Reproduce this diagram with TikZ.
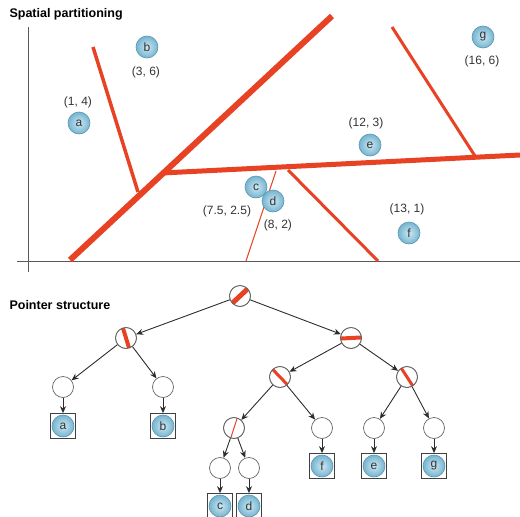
\documentclass[tikz,border=0pt]{standalone}
\usepackage{fontspec}
\setmainfont{Liberation Sans}
\usetikzlibrary{arrows.meta,calc}
\definecolor{splitred}{RGB}{232,66,36}
\definecolor{ballrim}{RGB}{88,150,178}
\definecolor{ballin}{RGB}{205,232,243}
\definecolor{ballout}{RGB}{118,180,207}
\definecolor{axisgray}{RGB}{90,90,90}
\definecolor{ptrgray}{RGB}{45,45,45}
\tikzset{
    ball/.style={circle, draw=ballrim, line width=0.6pt, inner color=ballin, outer color=ballout,
        minimum size=22pt, inner sep=0pt, font=\fontsize{12}{12}\selectfont, text=black!80},
    coordlabel/.style={font=\fontsize{12}{12}\selectfont, text=black!80},
    splitnode/.style={circle, draw=black!60, line width=0.7pt, fill=white, minimum size=21pt, inner sep=0pt},
    leafbox/.style={draw=black!75, line width=0.7pt, minimum size=25pt, inner sep=0pt},
    ptr/.style={draw=ptrgray, line width=0.9pt, -{Stealth[length=7pt,width=6pt]}},
    heading/.style={font=\bfseries\fontsize{12.5}{14}\selectfont, anchor=west},
}
% red slash inside a tree node: node, angle, width
\newcommand{\splitmark}[3]{%
    \begin{scope}
        \clip (#1.center) circle (10.5pt);
        \draw[splitred, line width=#3] ($(#1.center)+(#2:12pt)$) -- ($(#1.center)+(#2+180:12pt)$);
    \end{scope}
    \draw[black!60, line width=0.7pt] (#1.center) circle (10.5pt);
}

\begin{document}
\begin{tikzpicture}[x=1pt, y=1pt]
    \useasboundingbox (0,0) rectangle (520,-517);

    % Spatial partitioning
    \node[heading] (spatialtitle) at (6,-14) {Spatial partitioning};
    \draw[axisgray, line width=0.8pt] (28,-27) -- (28,-272);
    \draw[axisgray, line width=0.8pt] (17,-261) -- (520,-261);

    % splitting planes
    \draw[splitred, line width=6pt] (70,-260) -- (332,-16);
    \draw[splitred, line width=3.5pt] (93,-47) -- (138,-192);
    \draw[splitred, line width=5pt] (162,-173) -- (520,-155);
    \draw[splitred, line width=3pt] (392,-27) -- (475,-156);
    \draw[splitred, line width=3pt] (288,-170) -- (378,-261);
    \draw[splitred, line width=1pt] (276,-171) -- (246,-261);

    % points
    \node[ball] (pa) at (79,-123) {a};
    \node[coordlabel] (ta) at (78,-102) {(1, 4)};
    \node[ball] (pb) at (147,-47) {b};
    \node[coordlabel] (tb) at (146,-72) {(3, 6)};
    \node[ball] (pc) at (256,-187) {c};
    \node[ball] (pd) at (273,-201) {d};
    \node[coordlabel] (tc) at (227,-211) {(7.5, 2.5)};
    \node[coordlabel] (td) at (278,-225) {(8, 2)};
    \node[ball] (pe) at (370,-145) {e};
    \node[coordlabel] (te) at (366,-123) {(12, 3)};
    \node[ball] (pf) at (409,-233) {f};
    \node[coordlabel] (tf) at (407,-209) {(13, 1)};
    \node[ball] (pg) at (483,-37) {g};
    \node[coordlabel] (tg) at (482,-61) {(16, 6)};

    % Pointer structure
    \node[heading] (pointertitle) at (6,-305) {Pointer structure};

    \node[splitnode] (root) at (240,-296) {};
    \node[splitnode] (l) at (126,-338) {};
    \node[splitnode] (r) at (351,-338) {};
    \node[splitnode] (ll) at (63,-387) {};
    \node[splitnode] (lr) at (163,-387) {};
    \node[splitnode] (rl) at (280,-377) {};
    \node[splitnode] (rr) at (407,-377) {};
    \node[splitnode] (rll) at (234,-428) {};
    \node[splitnode] (rlr) at (322,-428) {};
    \node[splitnode] (rrl) at (374,-428) {};
    \node[splitnode] (rrr) at (434,-428) {};
    \node[splitnode] (rlll) at (220,-468) {};
    \node[splitnode] (rllr) at (249,-468) {};

    \splitmark{root}{43}{5pt}
    \splitmark{l}{-73}{4pt}
    \splitmark{r}{3}{4pt}
    \splitmark{rl}{-46}{3pt}
    \splitmark{rr}{-57}{3pt}
    \splitmark{rll}{72}{1pt}

    % leaves
    \node[leafbox] (boxa) at (63,-426) {};
    \node[ball] (leafa) at (boxa) {a};
    \node[leafbox] (boxb) at (163,-426) {};
    \node[ball] (leafb) at (boxb) {b};
    \node[leafbox] (boxf) at (322,-466) {};
    \node[ball] (leaff) at (boxf) {f};
    \node[leafbox] (boxe) at (374,-466) {};
    \node[ball] (leafe) at (boxe) {e};
    \node[leafbox] (boxg) at (434,-466) {};
    \node[ball] (leafg) at (boxg) {g};
    \node[leafbox] (boxc) at (220,-506) {};
    \node[ball] (leafc) at (boxc) {c};
    \node[leafbox] (boxd) at (249,-506) {};
    \node[ball] (leafd) at (boxd) {d};

    % pointers
    \foreach \from/\to in {root/l, root/r, l/ll, l/lr, r/rl, r/rr, rl/rll, rl/rlr, rr/rrl, rr/rrr,
        rll/rlll, rll/rllr, ll/boxa, lr/boxb, rlr/boxf, rrl/boxe, rrr/boxg, rlll/boxc, rllr/boxd}
        \draw[ptr] (\from) -- (\to);
\end{tikzpicture}
\end{document}
